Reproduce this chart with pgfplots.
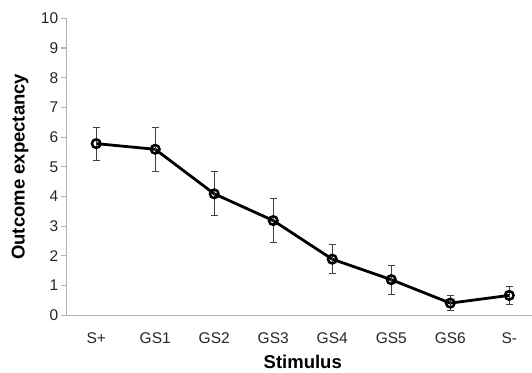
\documentclass[border=0pt]{standalone}
\usepackage{fontspec}
\setmainfont{Liberation Sans}
\usepackage{pgfplots}
\pgfplotsset{compat=1.18}
\begin{document}
\begin{tikzpicture}
\begin{axis}[
  scale only axis, width=465.3pt, height=297pt,
  xmin=-0.5, xmax=7.385, ymin=0, ymax=10,
  axis lines*=left,
  axis line style={black!30, line width=1.1pt},
  xtick={0,...,7},
  xticklabels={S+,GS1,GS2,GS3,GS4,GS5,GS6,S-},
  ytick={0,...,10},
  xtick style={draw=none},
  ytick style={black!30, line width=1.1pt},
  tick align=outside,
  major tick length=6pt,
  /pgf/number format/assume math mode=true,
  tick label style={font=\fontsize{15.5}{18}\selectfont, text=black!85},
  xticklabel style={yshift=-8pt},
  yticklabel style={xshift=1pt},
  label style={font=\bfseries\fontsize{18.5}{22}\selectfont},
  xlabel={Stimulus},
  ylabel={Outcome expectancy},
  xlabel style={at={(axis cs:3.5,0)}, anchor=center, yshift=-46.4pt},
  ylabel style={at={(axis description cs:0,0.5)}, anchor=center, yshift=46.7pt},
  clip=false,
]
\coordinate (O) at (rel axis cs:0,0);
\addplot[
  black, line width=2.8pt,
  mark=o, mark size=4.3pt,
  mark options={fill=white, line width=2.5pt},
  error bars/.cd, y dir=both, y explicit,
  error bar style={line width=0.9pt, black!75},
  error mark options={rotate=90, mark size=3.6pt, line width=0.9pt, black!75},
] coordinates {
  (0,5.78) +- (0,0.55)
  (1,5.59) +- (0,0.73)
  (2,4.09) +- (0,0.74)
  (3,3.19) +- (0,0.74)
  (4,1.89) +- (0,0.49)
  (5,1.20) +- (0,0.49)
  (6,0.41) +- (0,0.25)
  (7,0.67) +- (0,0.31)
};
\end{axis}
\pgfresetboundingbox
\path (O) ++(-66.7pt,-56.7pt) rectangle ++(532pt,372pt);
\end{tikzpicture}
\end{document}
